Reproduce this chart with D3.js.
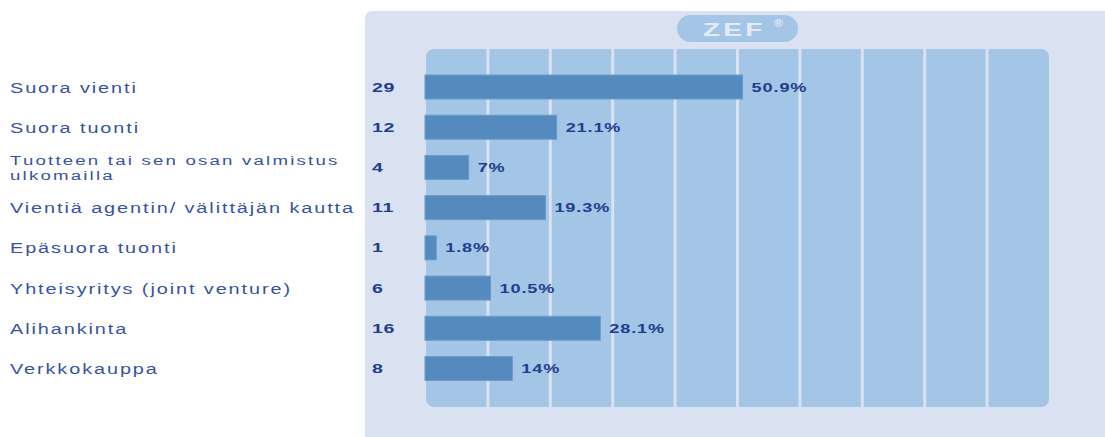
<!DOCTYPE html>
<html>
<head>
<meta charset="utf-8">
<script src="https://cdn.jsdelivr.net/npm/d3@7"></script>
<style>
  html, body { margin: 0; padding: 0; background: #ffffff; }
  svg { display: block; }
</style>
</head>
<body>
<svg id="chart" width="1105" height="437"></svg>
<script>
// ---- data ----
const categories = [
  "Suora vienti",
  "Suora tuonti",
  "Tuotteen tai sen osan valmistus|ulkomailla",
  "Vientiä agentin/ välittäjän kautta",
  "Epäsuora tuonti",
  "Yhteisyritys (joint venture)",
  "Alihankinta",
  "Verkkokauppa"
];
const counts = [29, 12, 4, 11, 1, 6, 16, 8];
const percents = [50.9, 21.1, 7, 19.3, 1.8, 10.5, 28.1, 14];
const percentLabels = ["50.9%", "21.1%", "7%", "19.3%", "1.8%", "10.5%", "28.1%", "14%"];
const gridTicks = [10, 20, 30, 40, 50, 60, 70, 80, 90];

// ---- styles ----
const panelColor = "#dae1f0";
const plotColor = "#a3c6e7";
const barColor = "#548abd";
const barStroke = "#6b9bcb";
const labelColor = "#3652a4";
const numColor = "#213d8e";
const font = "'Liberation Sans', Arial, sans-serif";

const svg = d3.select("#chart");

// outer panel
svg.append("path")
  .attr("d", "M365,19 Q365,11 373,11 L1105,11 L1105,437 L365,437 Z")
  .attr("fill", panelColor);

// scales
const x = d3.scaleLinear().domain([0, 100]).range([425, 1049]);
const y = d3.scalePoint().domain(categories).range([87, 368.5]);

const plotTop = 49, plotBottom = 407;

// plot area
svg.append("rect")
  .attr("x", 426).attr("y", plotTop)
  .attr("width", x(100) - 426).attr("height", plotBottom - plotTop)
  .attr("rx", 8).attr("ry", 8)
  .attr("fill", plotColor);

// vertical separators
const xAxis = d3.axisBottom(x).tickValues(gridTicks).tickSize(-(plotBottom - plotTop)).tickFormat("");
const g = svg.append("g").attr("transform", `translate(0,${plotBottom})`).call(xAxis);
g.select(".domain").remove();
g.selectAll(".tick line").attr("stroke", panelColor).attr("stroke-width", 3);

// ZEF logo
svg.append("rect")
  .attr("x", 677).attr("y", 15).attr("width", 121).attr("height", 27)
  .attr("rx", 13.5).attr("ry", 13.5).attr("fill", plotColor);
svg.append("text")
  .attr("transform", "translate(703,35.5) scale(1.6,1)")
  .attr("font-family", font).attr("font-weight", "bold").attr("font-size", 17.5)
  .attr("letter-spacing", 2)
  .attr("fill", "#e4ebf6")
  .text("ZEF");
svg.append("text")
  .attr("transform", "translate(774,27) scale(1.2,1)")
  .attr("font-family", font).attr("font-weight", "bold").attr("font-size", 10)
  .attr("fill", "#e4ebf6")
  .text("®");

// bars
svg.append("g").selectAll("rect")
  .data(categories)
  .join("rect")
  .attr("x", x(0))
  .attr("y", d => y(d) - 12)
  .attr("width", (d, i) => x(percents[i]) - x(0))
  .attr("height", 24)
  .attr("fill", barColor)
  .attr("stroke", barStroke)
  .attr("stroke-width", 1);

// category labels
const catG = svg.append("g");
categories.forEach((c, i) => {
  const lines = c.split("|");
  if (lines.length === 1) {
    catG.append("text")
      .attr("transform", `translate(10,${y(c) + 5.5}) scale(1.28,1)`)
      .attr("font-family", font).attr("font-size", 15.5)
      .attr("letter-spacing", 1.5)
      .attr("fill", labelColor)
      .text(c);
  } else {
    lines.forEach((ln, j) => {
      catG.append("text")
        .attr("transform", `translate(10,${y(c) - 2.5 + j * 15.5}) scale(1.38,1)`)
        .attr("font-family", font).attr("font-size", 13.5)
        .attr("letter-spacing", 1.6)
        .attr("fill", labelColor)
        .text(ln);
    });
  }
});

// counts
svg.append("g").selectAll("text")
  .data(categories)
  .join("text")
  .attr("transform", d => `translate(372,${y(d) + 4.5}) scale(1.45,1)`)
  .attr("font-family", font).attr("font-weight", "bold").attr("font-size", 13.5)
  .attr("letter-spacing", 0.4)
  .attr("fill", numColor)
  .text((d, i) => counts[i]);

// percentages
svg.append("g").selectAll("text")
  .data(categories)
  .join("text")
  .attr("transform", (d, i) => `translate(${x(percents[i]) + 9},${y(d) + 4.5}) scale(1.45,1)`)
  .attr("font-family", font).attr("font-weight", "bold").attr("font-size", 12.5)
  .attr("letter-spacing", 0.6)
  .attr("fill", numColor)
  .text((d, i) => percentLabels[i]);
</script>
</body>
</html>
